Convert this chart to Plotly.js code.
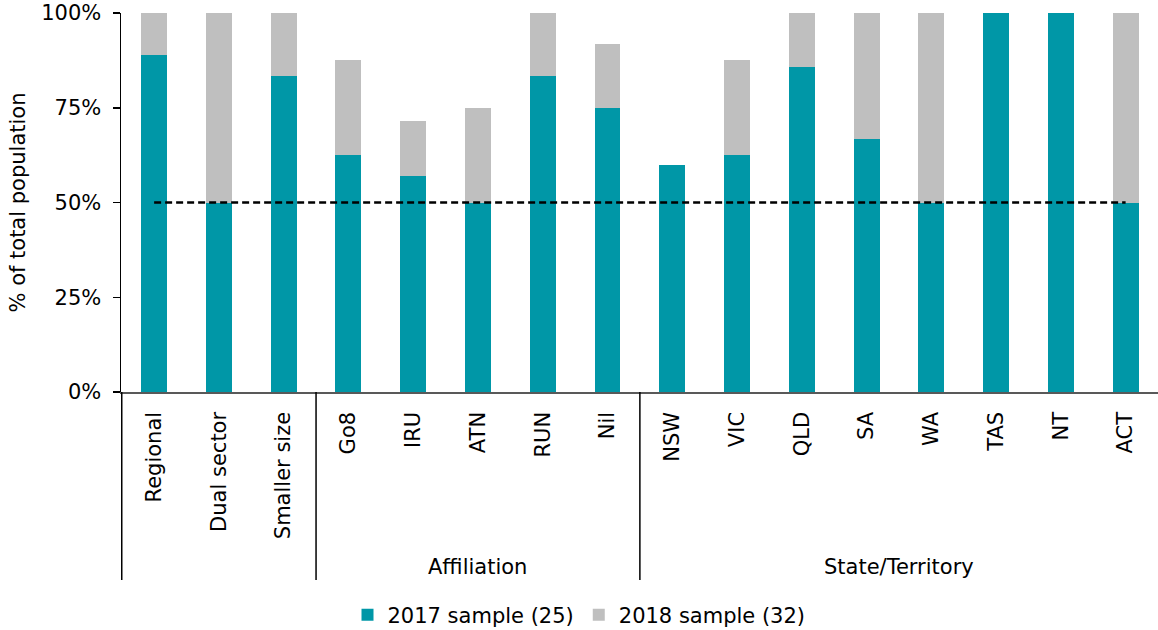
<!DOCTYPE html>
<html>
<head>
<meta charset="utf-8">
<script src="https://cdn.plot.ly/plotly-3.0.1.min.js"></script>
<style>
html,body{margin:0;padding:0;background:#fff;}
#chart{width:1158px;height:630px;}
</style>
</head>
<body>
<div id="chart"></div>
<script>
// ---- data ----
const categories = ["Regional","Dual sector","Smaller size","Go8","IRU","ATN","RUN","Nil","NSW","VIC","QLD","SA","WA","TAS","NT","ACT"];
const groupLabels = ["", "Affiliation", "State/Territory"];
const groupSizes = [3, 5, 8];
const sample2017 = [88.9, 50, 83.3, 62.5, 57.1, 50, 83.3, 75, 60, 62.5, 85.7, 66.7, 50, 100, 100, 50];
const sample2018 = [11.1, 50, 16.7, 25, 14.3, 25, 16.7, 16.7, 0, 25, 14.3, 33.3, 50, 0, 0, 50];
const benchmark = [50, 50, 50, 50, 50, 50, 50, 50, 50, 50, 50, 50, 50, 50, 50, 50];
const seriesNames = ["2017 sample (25)", "2018 sample (32)"];
const yTicks = [0, 25, 50, 75, 100];
const yTickLabels = ["0%", "25%", "50%", "75%", "100%"];

const FONT = "Verdana, 'DejaVu Sans', sans-serif";
const FS = 21;

const traces = [
  {type:"bar", name:seriesNames[0], x:categories, y:sample2017,
   marker:{color:"#0097A7"}, hoverinfo:"skip"},
  {type:"bar", name:seriesNames[1], x:categories, y:sample2018,
   marker:{color:"#BFBFBF"}, hoverinfo:"skip"},
  {type:"scatter", mode:"lines", x:categories, y:benchmark, showlegend:false,
   line:{color:"#000", width:2.5, dash:"7px,4px"}, hoverinfo:"skip"}
];

// group separators & labels (category index coordinates)
const shapes = [];
const annotations = [];
let start = 0;
const sepY = -(580-392)/379;
shapes.push({type:"line", xref:"x", yref:"paper", x0:-0.5, x1:-0.5, y0:0, y1:sepY, line:{color:"#000", width:1.5}});
groupSizes.forEach((n, i) => {
  const end = start + n;
  if (i > 0) {
    shapes.push({type:"line", xref:"x", yref:"paper", x0:start-0.5, x1:start-0.5, y0:0, y1:sepY, line:{color:"#000", width:1.5}});
  }
  if (groupLabels[i]) {
    annotations.push({xref:"x", yref:"paper", x:(start+end-1)/2, y:-(567-392)/379,
      text:groupLabels[i], showarrow:false, xanchor:"center", yanchor:"middle",
      font:{family:FONT, size:FS, color:"#000"}});
  }
  start = end;
});

const layout = {
  width:1158, height:630,
  margin:{l:121, r:0, t:13, b:238},
  barmode:"stack", bargap:0.6,
  paper_bgcolor:"#fff", plot_bgcolor:"#fff",
  font:{family:FONT, size:FS, color:"#000"},
  xaxis:{type:"category", tickangle:-90, showline:true, linecolor:"#595959", linewidth:1.5,
    ticks:"", showgrid:false, zeroline:false, ticklabelstandoff:10,
    tickfont:{family:FONT, size:FS, color:"#000"}, fixedrange:true},
  yaxis:{range:[0,100], tickmode:"array", tickvals:yTicks, ticktext:yTickLabels,
    showline:true, linecolor:"#000", linewidth:1.5,
    ticks:"outside", ticklen:7, tickcolor:"#000", tickwidth:1.5, showgrid:false, zeroline:false,
    ticklabelstandoff:7,
    tickfont:{family:FONT, size:FS, color:"#000"},
    title:{text:"% of total population", font:{family:FONT, size:FS, color:"#000"}, standoff:10},
    fixedrange:true},
  showlegend:true,
  legend:{orientation:"h", xref:"container", yref:"container", x:0.5, xanchor:"center",
    y:(630-615)/630, yanchor:"middle", font:{family:FONT, size:FS, color:"#000"},
    traceorder:"normal"},
  shapes:shapes,
  annotations:annotations
};

Plotly.newPlot("chart", traces, layout, {staticPlot:true, displayModeBar:false});
</script>
</body>
</html>
